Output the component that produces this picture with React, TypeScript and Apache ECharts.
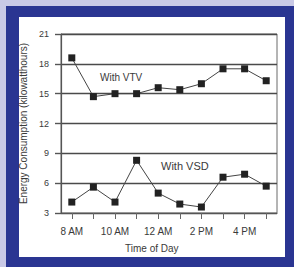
import React, { useEffect, useRef } from "react";
import * as echarts from "echarts";

const categories = ["8 AM", "9 AM", "10 AM", "11 AM", "12 AM", "1 PM", "2 PM", "3 PM", "4 PM", "5 PM"];
const vtvValues = [18.6, 14.7, 15.0, 15.0, 15.6, 15.4, 16.0, 17.5, 17.5, 16.3];
const vsdValues = [4.1, 5.6, 4.1, 8.3, 5.0, 3.9, 3.6, 6.6, 6.9, 5.7];
const yTicks = { min: 3, max: 21, interval: 3 };

export default function App() {
  const ref = useRef<HTMLDivElement>(null);
  useEffect(() => {
    if (!ref.current) return;
    const chart = echarts.init(ref.current, undefined, { renderer: "svg" });
    const font = "Liberation Sans, Arial, sans-serif";
    const txt = "#3a3a3a";
    chart.setOption({
      animation: false,
      backgroundColor: "transparent",
      textStyle: { fontFamily: font },
      grid: {
        left: 61,
        right: 17,
        top: 34,
        bottom: 54,
        show: true,
        borderColor: "#6a6a6a",
        borderWidth: 1,
        backgroundColor: "transparent",
      },
      xAxis: {
        type: "category",
        data: categories,
        boundaryGap: true,
        axisLine: { show: true, lineStyle: { color: "#555", width: 1.2 } },
        axisTick: { show: true, alignWithLabel: true, interval: 0, length: 6, lineStyle: { color: "#666" } },
        axisLabel: { interval: 1, color: txt, fontSize: 10, margin: 13, fontFamily: font },
        splitLine: { show: false },
      },
      yAxis: {
        type: "value",
        min: yTicks.min,
        max: yTicks.max,
        interval: yTicks.interval,
        name: "Energy Consumption (kilowatthours)",
        nameLocation: "middle",
        nameRotate: 90,
        nameGap: 33,
        nameTextStyle: { color: txt, fontSize: 10, fontFamily: font },
        axisLine: { show: true, lineStyle: { color: "#555", width: 1.2 } },
        axisTick: { show: true, length: 6, lineStyle: { color: "#555", width: 1.4 } },
        axisLabel: { color: txt, fontSize: 9, margin: 12, fontFamily: font },
        splitLine: { show: true, lineStyle: { color: "#4a4a4a", width: 1.4 } },
      },
      graphic: [
        { type: "text", left: 100, top: 72, style: { text: "With VTV", font: `10px ${font}`, fill: txt } },
        { type: "text", left: 161, top: 160, style: { text: "With VSD", font: `11px ${font}`, fill: txt } },
        { type: "text", left: 125, top: 243, style: { text: "Time of Day", font: `10px ${font}`, fill: txt } },
      ],
      series: [
        {
          name: "With VTV",
          type: "line",
          data: vtvValues,
          symbol: "rect",
          symbolSize: 7,
          lineStyle: { color: "#444", width: 1 },
          itemStyle: { color: "#222" },
        },
        {
          name: "With VSD",
          type: "line",
          data: vsdValues,
          symbol: "rect",
          symbolSize: 7,
          lineStyle: { color: "#444", width: 1 },
          itemStyle: { color: "#222" },
        },
      ],
    });
    return () => chart.dispose();
  }, []);
  return (
    <div style={{ position: "fixed", left: 0, top: 0, width: 294, height: 267, background: "#c9c9e6" }}>
      <div style={{ position: "absolute", left: 6, top: 6, width: 288, height: 261, background: "#2a3592" }} />
      <div style={{ position: "absolute", left: 19, top: 17, width: 266, height: 240, background: "#ffffff" }} />
      <div ref={ref} style={{ position: "absolute", left: 0, top: 0, width: 294, height: 267 }} />
    </div>
  );
}
